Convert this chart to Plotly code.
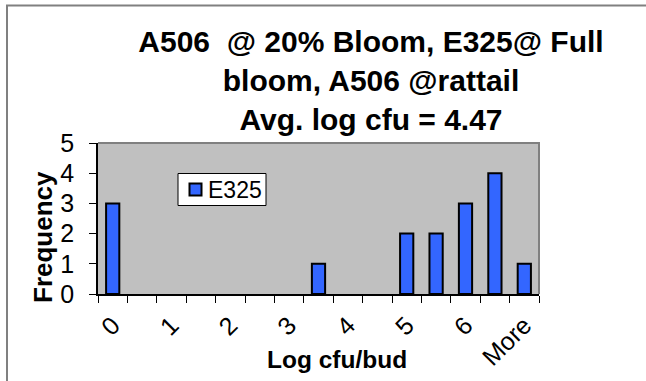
import plotly.graph_objects as go

# Histogram bins (log cfu/bud) and counts per bin
bins = ["0", "0.5", "1", "1.5", "2", "2.5", "3", "3.5", "4", "4.5",
        "5", "5.5", "6", "6.5", "More"]
frequency = [3, 0, 0, 0, 0, 0, 0, 1, 0, 0, 2, 2, 3, 4, 1]
bin_labels = ["0", "", "1", "", "2", "", "3", "", "4", "", "5", "", "6", "", "More"]
series_name = "E325"

W, H = 646, 381
L, R, T, B = 98, 107, 143, 87
pw, ph = W - L - R, H - T - B


def px_x(x):
    return (x - L) / pw


def px_y(y):
    return (H - B - y) / ph


FONT = "Arial, Liberation Sans, sans-serif"
BAR_COLOR = "#3366FF"

# empty bins are left blank rather than drawn as flat outlined bars
bar_heights = [v if v else None for v in frequency]

fig = go.Figure(
    go.Bar(
        x=bins,
        y=bar_heights,
        name=series_name,
        marker=dict(color=BAR_COLOR, line=dict(color="#000000", width=2)),
        showlegend=False,
    )
)

fig.update_layout(
    width=W,
    height=H,
    margin=dict(l=L, r=R, t=T, b=B, pad=0, autoexpand=False),
    paper_bgcolor="#FFFFFF",
    plot_bgcolor="#C0C0C0",
    bargap=0.55,
    font=dict(family=FONT, size=23, color="#000000"),
    title=dict(
        text="<b>A506  @ 20% Bloom, E325@ Full<br>bloom, A506 @rattail<br>Avg. log cfu = 4.47</b>",
        font=dict(family=FONT, size=30, color="#000000"),
        xref="paper",
        x=px_x(371),
        xanchor="center",
        yref="container",
        y=1 - 52 / H,
        yanchor="middle",
    ),
    xaxis=dict(
        type="category",
        tickmode="array",
        tickvals=bins,
        ticktext=bin_labels,
        tickson="boundaries",
        ticks="outside",
        ticklen=7,
        tickwidth=1,
        tickcolor="#000000",
        tickangle=-45,
        ticklabelstandoff=5,
        automargin=False,
        showline=True,
        linecolor="#000000",
        linewidth=1.5,
        showgrid=False,
        zeroline=False,
        tickfont=dict(family=FONT, size=25),
    ),
    yaxis=dict(
        range=[0, 5],
        dtick=1,
        ticks="outside",
        ticklen=7,
        tickwidth=1,
        tickcolor="#000000",
        ticklabelstandoff=10,
        automargin=False,
        showline=True,
        linecolor="#000000",
        linewidth=1.5,
        showgrid=False,
        zeroline=False,
        tickfont=dict(family=FONT, size=25),
    ),
    annotations=[
        dict(
            text="<b>Frequency</b>",
            xref="paper", yref="paper",
            x=px_x(43), y=px_y(237),
            xanchor="center", yanchor="middle",
            textangle=-90, showarrow=False,
            font=dict(family=FONT, size=26),
        ),
        dict(
            text="<b>Log cfu/bud</b>",
            xref="paper", yref="paper",
            x=px_x(337), y=px_y(359),
            xanchor="center", yanchor="middle",
            showarrow=False,
            font=dict(family=FONT, size=24.5),
        ),
        # legend label
        dict(
            text=series_name,
            xref="paper", yref="paper",
            x=px_x(206), y=px_y(189.5),
            xanchor="left", yanchor="middle",
            showarrow=False,
            font=dict(family=FONT, size=23),
        ),
    ],
    shapes=[
        # plot-area frame (top and right edges)
        dict(type="path", xref="paper", yref="paper",
             path="M 0 1 L 1 1 L 1 0",
             line=dict(color="#808080", width=2), layer="above"),
        # chart-area frame (left and top edges)
        dict(type="path", xref="paper", yref="paper",
             path=f"M {px_x(7)} {px_y(400)} L {px_x(7)} {px_y(5.5)} L {px_x(660)} {px_y(5.5)}",
             line=dict(color="#808080", width=2), layer="above"),
        # legend box
        dict(type="rect", xref="paper", yref="paper",
             x0=px_x(178), x1=px_x(266), y0=px_y(205.5), y1=px_y(173.5),
             fillcolor="#FFFFFF", line=dict(color="#000000", width=1), layer="above"),
        # legend swatch
        dict(type="rect", xref="paper", yref="paper",
             x0=px_x(189.5), x1=px_x(201.5), y0=px_y(195.5), y1=px_y(183.5),
             fillcolor=BAR_COLOR, line=dict(color="#000000", width=2), layer="above"),
    ],
)

fig.write_html("out.html")
